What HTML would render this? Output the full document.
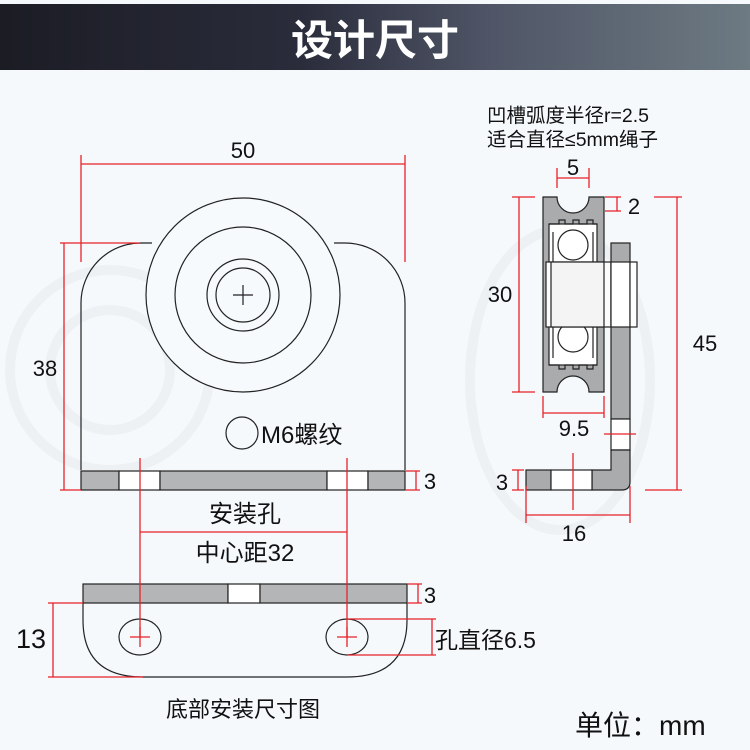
<!DOCTYPE html>
<html><head><meta charset="utf-8"><style>
html,body{margin:0;padding:0;width:750px;height:750px;overflow:hidden;background:#f6f9fc}
svg{display:block}
text{font-family:"Liberation Sans","Noto Sans CJK SC",sans-serif;fill:#111}
</style></head><body>
<svg width="750" height="750" viewBox="0 0 750 750" xmlns="http://www.w3.org/2000/svg">
<defs>
<linearGradient id="hg" x1="0" x2="1" y1="0" y2="0">
<stop offset="0" stop-color="#1b1c24"/><stop offset="0.4" stop-color="#2a2c3b"/>
<stop offset="0.65" stop-color="#4f5566"/><stop offset="1" stop-color="#6d7a82"/>
</linearGradient>
</defs>
<rect width="750" height="750" fill="#f6f9fc"/>
<g fill="none" stroke="#edf1f4" stroke-width="10">
<circle cx="110" cy="370" r="100"/><circle cx="110" cy="370" r="60"/>
<ellipse cx="560" cy="380" rx="90" ry="150"/>
</g>
<rect x="0" y="4" width="750" height="66" fill="url(#hg)"/>
<text x="375" y="55" text-anchor="middle" font-size="42" font-weight="bold" style="fill:#fff">设计尺寸</text>

<g stroke="#222" stroke-width="1.2" fill="none">
<path d="M81,470 L81,303 A60,60 0 0 1 141,243 L152,243 M334,243 L345,243 A60,60 0 0 1 405,303 L405,470" />
<circle cx="243" cy="295" r="97" fill="#f7fafc"/>
<circle cx="243" cy="295" r="68"/>
<circle cx="243" cy="295" r="36"/>
<circle cx="243" cy="295" r="27"/>
<path d="M233,295 H253 M243,285 V305"/>
<circle cx="242" cy="433" r="16"/>
</g>
<g stroke="#222" stroke-width="1.2">
<rect x="81" y="471" width="38" height="19" fill="#b3b5b7"/>
<rect x="119" y="471" width="41" height="19" fill="#fff"/>
<rect x="160" y="471" width="167" height="19" fill="#b3b5b7"/>
<rect x="327" y="471" width="41" height="19" fill="#fff"/>
<rect x="368" y="471" width="37" height="19" fill="#b3b5b7"/>
</g>
<text x="261" y="443" font-size="24">M6螺纹</text>

<g stroke="#222" stroke-width="1.2">
<rect x="83" y="584" width="145" height="19" fill="#b3b5b7"/>
<rect x="228" y="584" width="32" height="19" fill="#fff"/>
<rect x="260" y="584" width="147" height="19" fill="#b3b5b7"/>
<path d="M83,603 L83,620 Q83,677 143,677 L347,677 Q407,677 407,620 L407,603" fill="none"/>
<ellipse cx="140" cy="637" rx="21" ry="18" fill="none"/>
<ellipse cx="347" cy="637" rx="21" ry="18" fill="none"/>
</g>

<g stroke="#222" stroke-width="1.2">
<path d="M543,197 L557,197 A16,16 0 0 0 589,197 L604,197 L604,392 L589,392 A16,16 0 0 0 557,392 L543,392 Z" fill="#a9abad"/>
<rect x="549" y="224" width="48" height="141" fill="#fff"/>
<path d="M549,224 h10 v-4 h6 v4 h8 v-4 h6 v4 h8 v-4 h6 v4 h4" fill="none"/>
<path d="M549,365 h10 v4 h6 v-4 h8 v4 h6 v-4 h8 v4 h6 v-4 h4" fill="none"/>
<path d="M553,232 V262 M593,232 V262 M553,327 V358 M593,327 V358" fill="none"/>
<circle cx="573" cy="245" r="15" fill="none"/>
<circle cx="573" cy="337" r="15" fill="none"/>
<rect x="546" y="262" width="65" height="65" fill="#fbfbfb"/>
<rect x="551" y="262" width="53" height="65" fill="#f4f4f4"/>
<rect x="611" y="243" width="19" height="176" fill="#a9abad"/>
<rect x="611" y="262" width="19" height="65" fill="#fff"/>
<rect x="630" y="262" width="7" height="65" fill="#fff"/>
<rect x="611" y="419" width="19" height="31" fill="#fff"/>
<path d="M611,450 L630,450 L630,482 Q630,490 622,490 L592,490 L592,470 L611,470 Z" fill="#a9abad"/>
<rect x="526" y="470" width="25" height="20" fill="#a9abad"/>
<rect x="551" y="470" width="41" height="20" fill="#fff"/>
</g>

<g stroke="#e8222a" stroke-width="1.3" fill="none">
<path d="M81,155 V262 M405,155 V262 M81,164 H405"/>
<path d="M60,243 H140 M60,490 H81 M64,243 V490"/>
<path d="M405,471 H420 M405,490 H420 M416,471 V490"/>
<path d="M140,458 V637 M347,458 V637 M140,532 H347"/>
<path d="M407,584 H422 M407,603 H422 M418,584 V603"/>
<path d="M48,603 H83 M48,677 H143 M53,603 V677"/>
<path d="M347,619 H436 M347,655 H436 M432,619 V655"/>
<path d="M130,637 H150 M140,627 V647 M337,637 H357 M347,627 V647"/>
<path d="M557,168 V188 M589,168 V188 M557,178 H589"/>
<path d="M605,197 H621 M605,211 H621 M617,197 V211"/>
<path d="M512,197 H535 M512,392 H535 M519,197 V392"/>
<path d="M654,197 H682 M645,490 H682 M677,197 V490"/>
<path d="M543,396 V418 M604,396 V418 M543,413 H604"/>
<path d="M604,434 H636"/>
<path d="M512,470 H524 M512,490 H524 M518,470 V490"/>
<path d="M573,453 V510"/>
<path d="M526,486 V523 M630,486 V523 M526,515 H630"/>
</g>

<g font-size="22">
<text x="243" y="158" text-anchor="middle">50</text>
<text x="45" y="376" text-anchor="middle">38</text>
<text x="430" y="489" text-anchor="middle">3</text>
<text x="245" y="522" text-anchor="middle" font-size="24">安装孔</text>
<text x="245" y="561" text-anchor="middle" font-size="24">中心距32</text>
<text x="430" y="603" text-anchor="middle">3</text>
<text x="31" y="648" text-anchor="middle" font-size="27">13</text>
<text x="435" y="648" font-size="23">孔直径6.5</text>
<text x="573" y="175" text-anchor="middle">5</text>
<text x="634" y="214" text-anchor="middle">2</text>
<text x="500" y="302" text-anchor="middle">30</text>
<text x="705" y="351" text-anchor="middle">45</text>
<text x="574" y="436" text-anchor="middle">9.5</text>
<text x="502" y="490" text-anchor="middle">3</text>
<text x="574" y="541" text-anchor="middle">16</text>
</g>
<text x="487" y="122" font-size="19.5">凹槽弧度半径r=2.5</text>
<text x="487" y="146" font-size="19.5">适合直径≤5mm绳子</text>
<text x="243" y="717" text-anchor="middle" font-size="22">底部安装尺寸图</text>
<text x="575" y="735" font-size="28">单位：mm</text>
</svg>
</body></html>
